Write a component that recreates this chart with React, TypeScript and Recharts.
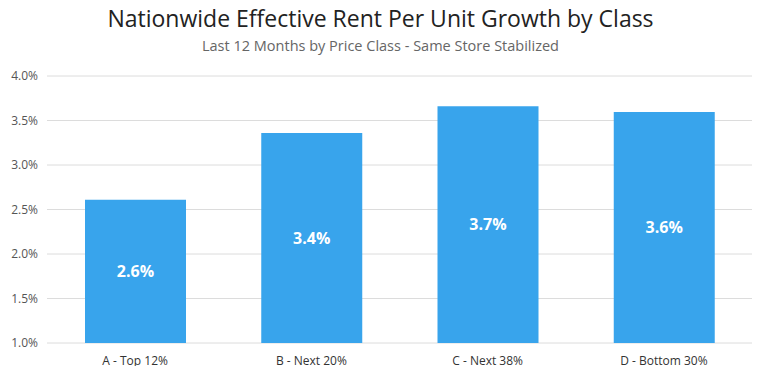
import { BarChart, Bar, XAxis, YAxis, CartesianGrid, LabelList } from 'recharts'

const classes = ['A - Top 12%', 'B - Next 20%', 'C - Next 38%', 'D - Bottom 30%']
const growth = [2.61, 3.36, 3.66, 3.595]
const yTicks = [1.0, 1.5, 2.0, 2.5, 3.0, 3.5, 4.0]

const data = classes.map((name, i) => ({ name, growth: growth[i] }))

const FONT = '"Open Sans", sans-serif'

export default function App() {
  return (
    <div style={{ position: 'relative', width: 761, height: 374, margin: -8, background: '#fff', fontFamily: FONT }}>
      <div style={{ position: 'absolute', top: 3, left: 0, width: 761, textAlign: 'center', fontSize: 23, color: '#222', lineHeight: '30px' }}>
        Nationwide Effective Rent Per Unit Growth by Class
      </div>
      <div style={{ position: 'absolute', top: 36, left: 0, width: 761, textAlign: 'center', fontSize: 14.5, color: '#666', lineHeight: '20px' }}>
        Last 12 Months by Price Class - Same Store Stabilized
      </div>
      <BarChart
        width={761}
        height={374}
        data={data}
        margin={{ top: 76, right: 9, bottom: 1, left: 0 }}
        style={{ position: 'absolute', top: 0, left: 0 }}
      >
        <CartesianGrid vertical={false} stroke="#dcdcdc" />
        <XAxis
          dataKey="name"
          height={30}
          axisLine={false}
          tickLine={false}
          tickMargin={7}
          tick={{ fontSize: 12, fill: '#333', fontFamily: FONT }}
        />
        <YAxis
          width={47}
          domain={[1, 4]}
          ticks={yTicks}
          axisLine={false}
          tickLine={false}
          tickMargin={3}
          tickFormatter={(v) => `${Number(v).toFixed(1)}%`}
          tick={{ fontSize: 12, fill: '#555', fontFamily: FONT }}
        />
        <Bar dataKey="growth" fill="#38a4ec" barSize={101} isAnimationActive={false}>
          <LabelList
            dataKey="growth"
            position="center"
            formatter={(v: number) => `${v.toFixed(1)}%`}
            fill="#fff"
            style={{ fontSize: 16, fontWeight: 700, fontFamily: FONT }}
          />
        </Bar>
      </BarChart>
    </div>
  )
}
